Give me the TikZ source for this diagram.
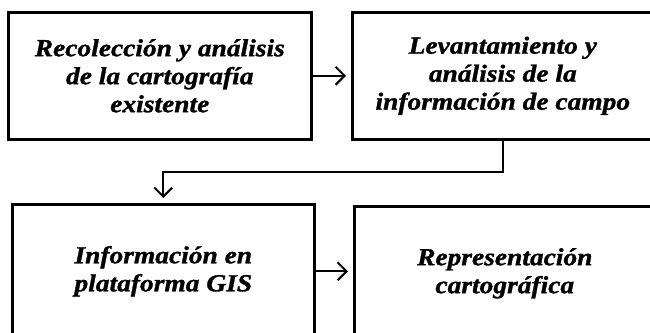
\documentclass[tikz,border=0pt]{standalone}
\usepackage{fontspec}
\setmainfont{Liberation Serif}[FakeStretch=1.12]
\newfontfamily\boxfont{Liberation Serif}[FakeStretch=1.12, BoldItalicFeatures={FakeBold=1.2}]
\usetikzlibrary{arrows.meta}
\begin{document}
\begin{tikzpicture}[x=1pt,y=-1pt,
  procbox/.style={draw=black, line width=2.6pt, fill=white, inner sep=0pt, anchor=north west,
    align=center, font=\boxfont\fontsize{24.5}{28}\selectfont\bfseries\itshape},
  flow/.style={draw=black, line width=2pt, -{Straight Barb[length=9pt,width=18pt,line width=2pt]}}]
\clip (0,0) rectangle (650,332);
\useasboundingbox (0,0) rectangle (650,332);
\node[procbox, minimum width=303pt, minimum height=127pt] (A) at (7,11)
  {Recolección y análisis\\de la cartografía\\existente};
\node[procbox, minimum width=301pt, minimum height=127pt] (B) at (351,11)
  {Levantamiento y\\análisis de la\\información de campo};
\node[procbox, minimum width=302pt, minimum height=134pt] (C) at (11,203)
  {Información en\\plataforma GIS};
\node[procbox, minimum width=301pt, minimum height=134pt] (D) at (353,205)
  {Representación\\cartográfica};
\coordinate (k1) at (B.south |- 0,172);
\coordinate (k2) at (C.north |- 0,172);
\draw[flow, shorten >=5pt] (A.east) -- (A.east -| B.west);
\draw[flow, shorten >=5pt] (C.east) -- (C.east -| D.west);
\draw[flow, shorten >=5pt] (B.south) -- (k1) -- (k2) -- (C.north);
\end{tikzpicture}
\end{document}
